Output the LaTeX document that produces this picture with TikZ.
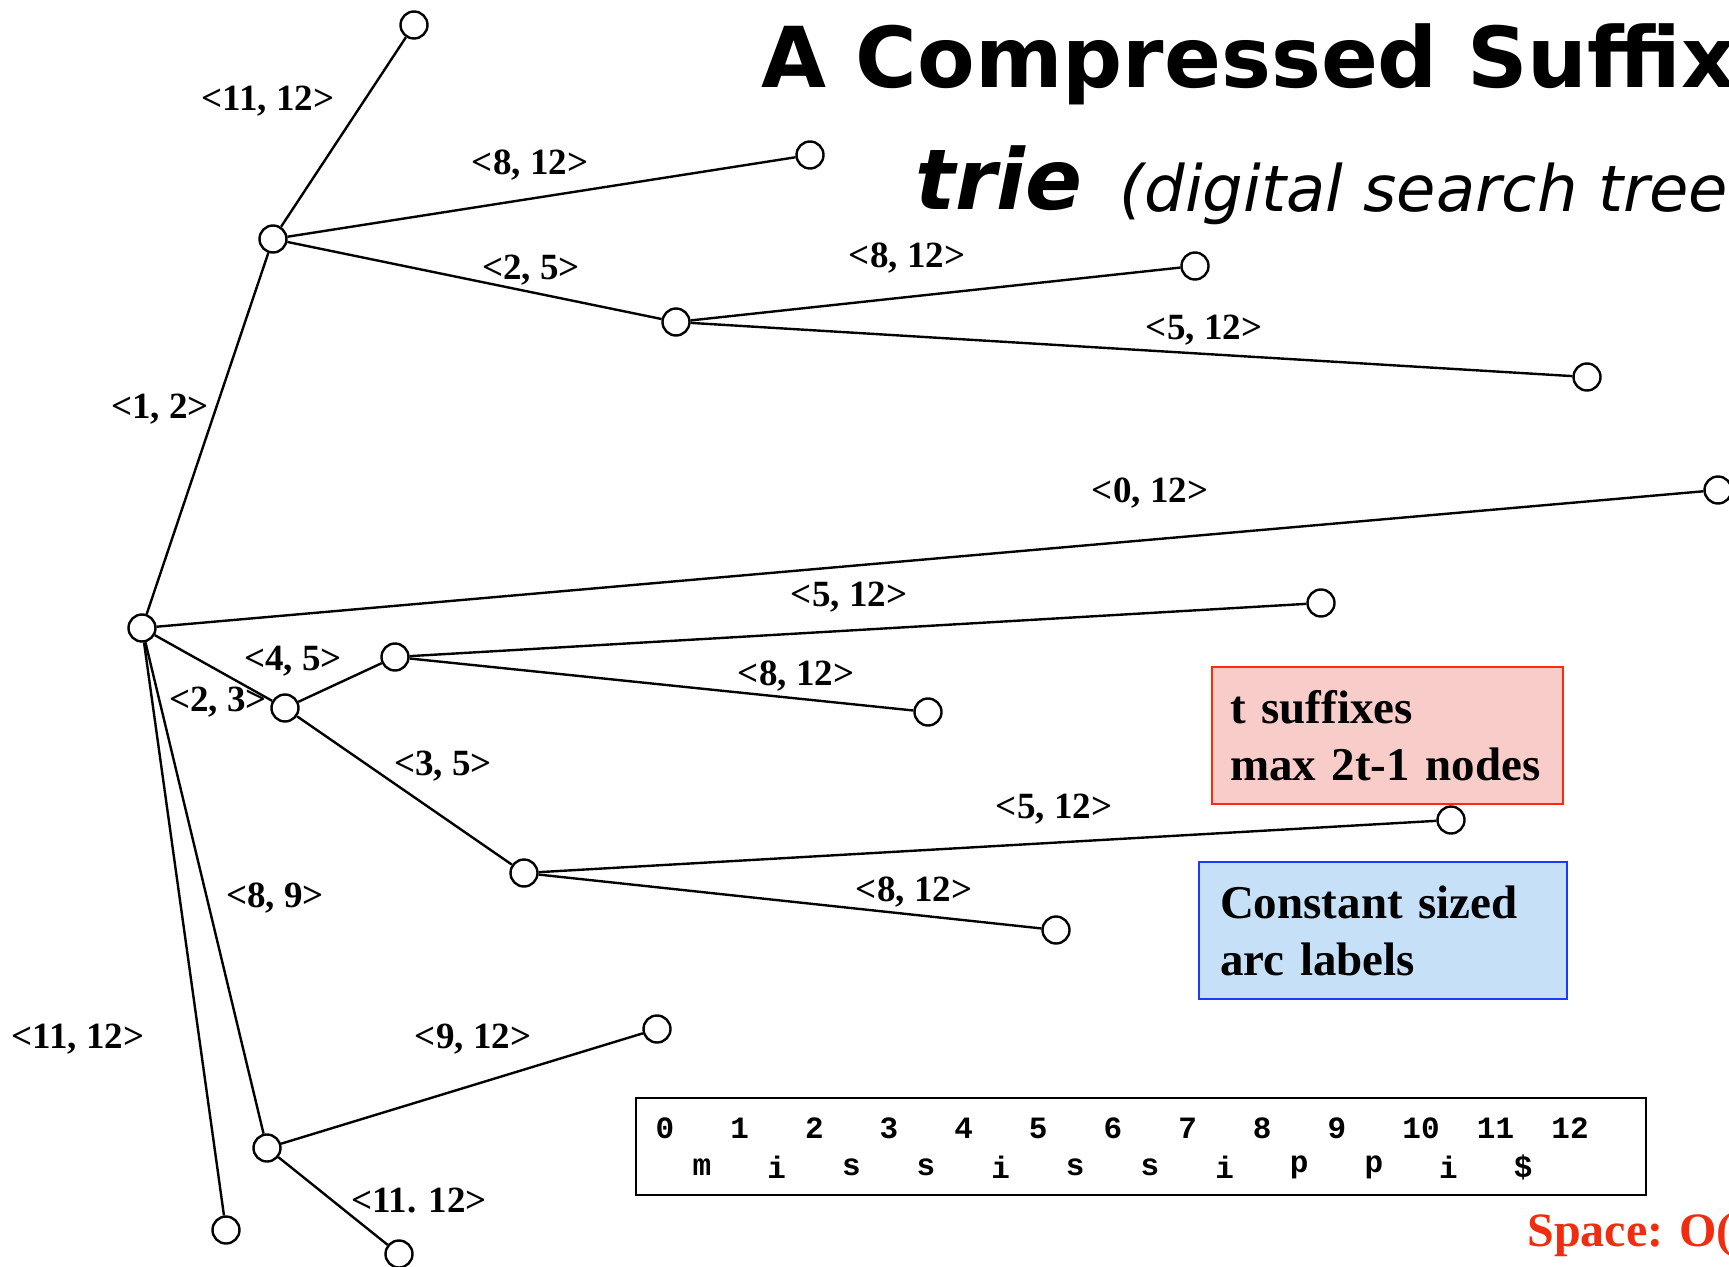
\documentclass[tikz,border=0pt]{standalone}
\usepackage{fontspec}
\setmainfont{Liberation Serif}
\newfontfamily\titlefont{DejaVu Sans}
\newfontfamily\tblfont{Liberation Mono}
\definecolor{boxred}{RGB}{255,42,12}
\definecolor{boxpink}{RGB}{248,204,200}
\definecolor{boxblue}{RGB}{28,58,255}
\definecolor{boxsky}{RGB}{198,224,248}
\definecolor{spacered}{RGB}{240,45,15}
\begin{document}
\begin{tikzpicture}[x=0.5pt,y=-0.5pt,
  vtx/.style={circle,draw,fill=white,line width=1.2pt,minimum size=13.5pt,inner sep=0pt},
  edge/.style={line width=1.2pt},
  lbl/.style={font=\fontsize{18.5}{20}\selectfont\bfseries,inner sep=0pt},
  tbl/.style={font=\tblfont\fontsize{15.5}{17}\selectfont\bfseries,inner sep=0pt},
  note/.style={draw,line width=1.2pt,minimum height=68.5pt,inner xsep=9pt,align=left,
    font=\fontsize{23.5}{28.5}\selectfont\bfseries}]
\useasboundingbox (0,0) rectangle (1729,1267);
\clip (0,0) rectangle (1729,1267);
% title
\node[anchor=base west,inner sep=0pt,font=\titlefont\fontsize{42}{50}\selectfont\bfseries] (t1) at (761,88) {A Compressed Suffix};
\node[anchor=base west,inner sep=0pt,font=\titlefont\fontsize{42}{50}\selectfont\bfseries\itshape] (t2) at (915,210) {trie};
\node[anchor=base west,inner sep=0pt,font=\titlefont\fontsize{32}{38}\selectfont\itshape] (t3) at (1119,212) {(digital search tree};
% vertices
\node[vtx] (R) at (142,628) {};
\node[vtx] (A) at (273,239) {};
\node[vtx] (A1) at (414,25) {};
\node[vtx] (A2) at (810,155) {};
\node[vtx] (B) at (676,322) {};
\node[vtx] (B1) at (1195,266) {};
\node[vtx] (B2) at (1587,377) {};
\node[vtx] (C) at (1718,490) {};
\node[vtx] (D) at (285,708) {};
\node[vtx] (E) at (395,657) {};
\node[vtx] (E1) at (1321,603) {};
\node[vtx] (E2) at (928,712) {};
\node[vtx] (F) at (524,873) {};
\node[vtx] (F1) at (1451,820) {};
\node[vtx] (F2) at (1056,930) {};
\node[vtx] (G) at (267,1148) {};
\node[vtx] (G1) at (657,1029) {};
\node[vtx] (G2) at (399,1254) {};
\node[vtx] (H) at (226,1230) {};
% edges
\draw[edge] (R) -- (A);
\draw[edge] (A) -- (A1);
\draw[edge] (A) -- (A2);
\draw[edge] (A) -- (B);
\draw[edge] (B) -- (B1);
\draw[edge] (B) -- (B2);
\draw[edge] (R) -- (C);
\draw[edge] (R) -- (D);
\draw[edge] (D) -- (E);
\draw[edge] (E) -- (E1);
\draw[edge] (E) -- (E2);
\draw[edge] (D) -- (F);
\draw[edge] (F) -- (F1);
\draw[edge] (F) -- (F2);
\draw[edge] (R) -- (G);
\draw[edge] (G) -- (G1);
\draw[edge] (G) -- (G2);
\draw[edge] (R) -- (H);
% edge labels
\node[lbl] (lA1) at (268,101) {<11, 12>};
\node[lbl] (lA2) at (530,165) {<8, 12>};
\node[lbl] (lB) at (531,270) {<2, 5>};
\node[lbl] (lB1) at (907,258) {<8, 12>};
\node[lbl] (lB2) at (1204,330) {<5, 12>};
\node[lbl] (lA) at (160,409) {<1, 2>};
\node[lbl] (lC) at (1150,493) {<0, 12>};
\node[lbl] (lE1) at (849,597) {<5, 12>};
\node[lbl] (lE) at (293,661) {<4, 5>};
\node[lbl] (lD) at (218,702) {<2, 3>};
\node[lbl] (lE2) at (796,676) {<8, 12>};
\node[lbl] (lF) at (443,766) {<3, 5>};
\node[lbl] (lF1) at (1054,809) {<5, 12>};
\node[lbl] (lF2) at (914,892) {<8, 12>};
\node[lbl] (lG) at (275,898) {<8, 9>};
\node[lbl] (lH) at (78,1039) {<11, 12>};
\node[lbl] (lG1) at (473,1039) {<9, 12>};
\node[lbl] (lG2) at (419,1201) {<11. 12>};
% notes
\node[note,fill=boxpink,draw=boxred,minimum width=175.5pt,text width=157.5pt,inner xsep=9pt] (pink) at (1387.5,735.5) {t suffixes\\max 2t-1 nodes};
\node[note,fill=boxsky,draw=boxblue,minimum width=184pt,text width=163pt,inner xsep=10.5pt] (blue) at (1383,930.5) {Constant sized\\arc labels};
% string table
\node[draw,line width=1.3pt,minimum width=505pt,minimum height=48.5pt,inner sep=0pt] (tab) at (1141,1146.5) {};
\foreach \d in {0,...,9} \node[tbl] (d\d) at (665+74.65*\d,1128) {\d};
\node[tbl] (d10) at (1421,1128) {10};
\node[tbl] (d11) at (1495.5,1128) {11};
\node[tbl] (d12) at (1570,1128) {12};
\foreach \c [count=\j from 0] in {m,i,s,s,i,s,s,i,p,p,i,\$} \node[tbl] (c\j) at (702+74.65*\j,1167) {\c};
% space
\node[anchor=west,inner sep=0pt,text=spacered,font=\fontsize{24}{28}\selectfont\bfseries] (space) at (1527,1235) {Space: O(};
\end{tikzpicture}
\end{document}
